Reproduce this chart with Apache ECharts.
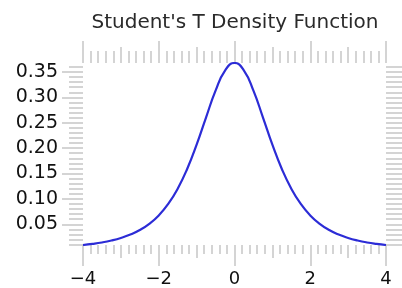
<!DOCTYPE html>
<html>
<head>
<meta charset="utf-8">
<script src="https://cdn.jsdelivr.net/npm/echarts@6/dist/echarts.min.js"></script>
<style>
  html, body { margin: 0; padding: 0; background: #fff; }
  #chart { width: 402px; height: 288px; }
</style>
</head>
<body>
<div id="chart"></div>
<script>
// values
const xValues = [-4, -3.75, -3.5, -3.25, -3, -2.75, -2.5, -2.25, -2, -1.75, -1.5, -1.25, -1, -0.75, -0.5, -0.25,
  0, 0.25, 0.5, 0.75, 1, 1.25, 1.5, 1.75, 2, 2.25, 2.5, 2.75, 3, 3.25, 3.5, 3.75, 4];
const density = [0.0092, 0.0114, 0.0142, 0.0180, 0.0230, 0.0297, 0.0387, 0.0509, 0.0675, 0.0900, 0.1200, 0.1589,
  0.2068, 0.2607, 0.3132, 0.3528, 0.3676, 0.3528, 0.3132, 0.2607, 0.2068, 0.1589, 0.1200, 0.0900, 0.0675,
  0.0509, 0.0387, 0.0297, 0.0230, 0.0180, 0.0142, 0.0114, 0.0092];

const xMajorTicks = [-4, -2, 0, 2, 4];
const xMidTicks = [-3, -1, 1, 3];
const yMajorTicks = [0.05, 0.10, 0.15, 0.20, 0.25, 0.30, 0.35];
const yRange = [0.0092, 0.3676];
const xRange = [-4, 4];

// minor tick positions
const xMinorTicks = [];
for (let i = 0; i <= 40; i++) xMinorTicks.push(+(-4 + i * 0.2).toFixed(2));
const yMinorTicks = [];
for (let i = 1; i <= 36; i++) yMinorTicks.push(+(i * 0.01).toFixed(2));

const tickGray = '#c6c6c6';
const font = 'DejaVu Sans';

const tickAxis = (extra, values, len) => Object.assign({
  type: 'value',
  axisLine: { show: false, onZero: false },
  splitLine: { show: false },
  axisLabel: { show: false },
  axisTick: {
    show: true,
    inside: false,
    length: len,
    customValues: values,
    lineStyle: { color: tickGray, width: 1.5 },
  },
}, extra);

const chart = echarts.init(document.getElementById('chart'));

chart.setOption({
  animation: false,
  title: {
    text: "Student's T Density Function",
    left: 230,
    top: 8,
    textAlign: 'center',
    textStyle: { fontFamily: font, fontSize: 20, fontWeight: 'normal', color: '#2a2a2a' },
  },
  grid: { left: 83, right: 16, top: 63, bottom: 42 },
  xAxis: [
    Object.assign(tickAxis({ position: 'bottom', min: xRange[0], max: xRange[1] }, xMajorTicks, 21), {
      axisLabel: {
        show: true,
        customValues: xMajorTicks,
        margin: 25,
        color: '#111',
        fontFamily: font,
        fontSize: 18,
        formatter: (v) => (v < 0 ? '\u2212' + Math.abs(v) : String(v)),
      },
    }),
    tickAxis({ position: 'bottom', min: xRange[0], max: xRange[1] }, xMidTicks, 13),
    tickAxis({ position: 'bottom', min: xRange[0], max: xRange[1] }, xMinorTicks, 9),
    tickAxis({ position: 'top', min: xRange[0], max: xRange[1] }, xMajorTicks, 22),
    tickAxis({ position: 'top', min: xRange[0], max: xRange[1] }, xMidTicks, 16),
    tickAxis({ position: 'top', min: xRange[0], max: xRange[1] }, xMinorTicks, 12),
  ],
  yAxis: [
    Object.assign(tickAxis({ position: 'left', min: yRange[0], max: yRange[1] }, yMajorTicks, 21), {
      axisLabel: {
        show: true,
        customValues: yMajorTicks,
        margin: 25,
        color: '#111',
        fontFamily: font,
        fontSize: 19,
        formatter: (v) => v.toFixed(2),
      },
    }),
    tickAxis({ position: 'left', min: yRange[0], max: yRange[1] }, yMinorTicks, 14),
    tickAxis({ position: 'right', min: yRange[0], max: yRange[1] }, yMinorTicks, 17),
  ],
  series: [
    {
      type: 'line',
      xAxisIndex: 0,
      yAxisIndex: 0,
      data: xValues.map((x, i) => [x, density[i]]),
      smooth: true,
      showSymbol: false,
      silent: true,
      lineStyle: { color: '#2c2cd6', width: 2.2 },
    },
  ],
});
</script>
</body>
</html>
